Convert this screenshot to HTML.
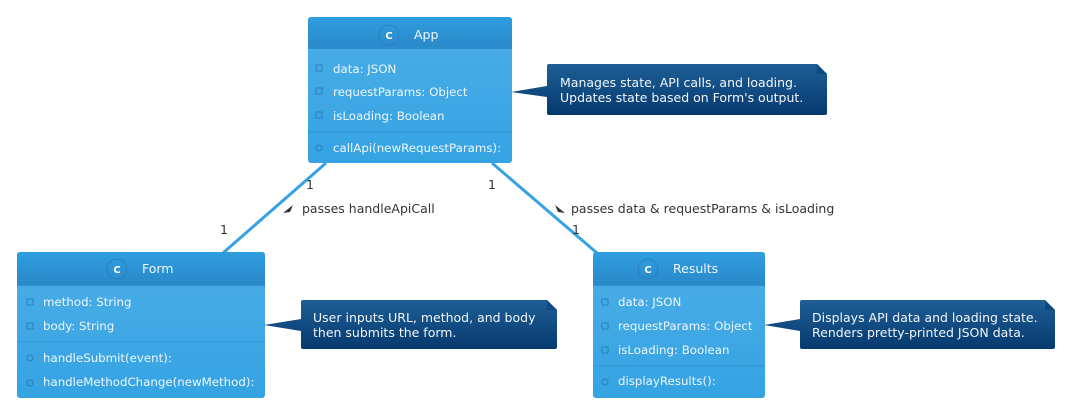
<!DOCTYPE html>
<html><head><meta charset="utf-8"><style>
html,body{margin:0;padding:0;background:#fff;}
svg{display:block;font-family:"DejaVu Sans","Liberation Sans",sans-serif;}
.m{font-size:11.8px;}
</style></head><body>
<svg width="1066" height="409" viewBox="0 0 1066 409" xmlns="http://www.w3.org/2000/svg">
<defs>
<linearGradient id="hd" x1="0" y1="0" x2="0" y2="1">
<stop offset="0" stop-color="#2f9fe0"/><stop offset="1" stop-color="#2a88c8"/></linearGradient>
<linearGradient id="bd" x1="0" y1="0" x2="0" y2="1">
<stop offset="0" stop-color="#4caee6"/><stop offset="1" stop-color="#35a3e3"/></linearGradient>
<linearGradient id="nt" x1="0" y1="0" x2="0" y2="1">
<stop offset="0" stop-color="#1f5e97"/><stop offset="1" stop-color="#053a6e"/></linearGradient>
</defs>

<line x1="326" y1="163" x2="223" y2="253" stroke="#35a3e3" stroke-width="3"/>
<line x1="492" y1="163" x2="597" y2="253" stroke="#35a3e3" stroke-width="3"/>
<g font-size="12.5" fill="#333">
<text x="306" y="189">1</text>
<text x="220" y="234">1</text>
<text x="488" y="189">1</text>
<text x="572" y="234">1</text>
<text x="302" y="213">passes handleApiCall</text>
<text x="571" y="213">passes data &amp; requestParams &amp; isLoading</text>
</g>
<polygon points="283,213 293,205 290,212" fill="#333"/>
<polygon points="555,205 565,213 558,212" fill="#333"/>

<!-- App -->
<rect x="308" y="17" width="204" height="146" rx="3" fill="url(#bd)"/>
<path d="M308,48 V20 a3,3 0 0 1 3,-3 H509 a3,3 0 0 1 3,3 V48 Z" fill="url(#hd)"/>
<rect x="308" y="47" width="204" height="2" fill="#2b8fcf"/>
<line x1="308" y1="132" x2="512" y2="132" stroke="#2f97d6" stroke-width="1"/>
<circle cx="389" cy="35" r="10" fill="none" stroke="#2a80bb" stroke-width="1"/>
<text x="389" y="39" font-size="10" font-weight="bold" fill="#fff" text-anchor="middle">C</text>
<text x="414" y="39" font-size="12.5" fill="#eef6fc">App</text>
<g class="m" fill="#eef6fc">
<text x="333" y="73">data: JSON</text>
<text x="333" y="96">requestParams: Object</text>
<text x="333" y="120">isLoading: Boolean</text>
<text x="333" y="152">callApi(newRequestParams):</text>
</g>
<g fill="none" stroke="#2a80bb" stroke-width="1">
<rect x="316" y="65" width="6" height="6"/><rect x="316" y="88" width="6" height="6"/><rect x="316" y="112" width="6" height="6"/>
<circle cx="319" cy="148" r="3"/>
</g>

<!-- Form -->
<rect x="17" y="252" width="248" height="146" rx="3" fill="url(#bd)"/>
<path d="M17,285 V255 a3,3 0 0 1 3,-3 H262 a3,3 0 0 1 3,3 V285 Z" fill="url(#hd)"/>
<rect x="17" y="284" width="248" height="2" fill="#2b8fcf"/>
<line x1="17" y1="342" x2="265" y2="342" stroke="#2f97d6" stroke-width="1"/>
<circle cx="117" cy="269" r="10" fill="none" stroke="#2a80bb" stroke-width="1"/>
<text x="117" y="273" font-size="10" font-weight="bold" fill="#fff" text-anchor="middle">C</text>
<text x="142" y="273" font-size="12.5" fill="#eef6fc">Form</text>
<g class="m" fill="#eef6fc">
<text x="43" y="306">method: String</text>
<text x="43" y="330">body: String</text>
<text x="43" y="362">handleSubmit(event):</text>
<text x="43" y="386">handleMethodChange(newMethod):</text>
</g>
<g fill="none" stroke="#2a80bb" stroke-width="1">
<rect x="27" y="299" width="6" height="6"/><rect x="27" y="323" width="6" height="6"/>
<circle cx="30" cy="358" r="3"/><circle cx="30" cy="383" r="3"/>
</g>

<!-- Results -->
<rect x="593" y="252" width="172" height="146" rx="3" fill="url(#bd)"/>
<path d="M593,285 V255 a3,3 0 0 1 3,-3 H762 a3,3 0 0 1 3,3 V285 Z" fill="url(#hd)"/>
<rect x="593" y="284" width="172" height="2" fill="#2b8fcf"/>
<line x1="593" y1="366" x2="765" y2="366" stroke="#2f97d6" stroke-width="1"/>
<circle cx="648" cy="269" r="10" fill="none" stroke="#2a80bb" stroke-width="1"/>
<text x="648" y="273" font-size="10" font-weight="bold" fill="#fff" text-anchor="middle">C</text>
<text x="673" y="273" font-size="12.5" fill="#eef6fc">Results</text>
<g class="m" fill="#eef6fc">
<text x="618" y="306">data: JSON</text>
<text x="618" y="330">requestParams: Object</text>
<text x="618" y="354">isLoading: Boolean</text>
<text x="618" y="385">displayResults():</text>
</g>
<g fill="none" stroke="#2a80bb" stroke-width="1">
<rect x="602" y="299" width="6" height="6"/><rect x="602" y="323" width="6" height="6"/><rect x="602" y="347" width="6" height="6"/>
<circle cx="605" cy="382" r="3"/>
</g>

<!-- notes -->
<g fill="url(#nt)">
<path d="M547,66 a2,2 0 0 1 2,-2 H817 L827,74 V113 a2,2 0 0 1 -2,2 H549 a2,2 0 0 1 -2,-2 V97 L511,92 L547,86 Z"/>
<path d="M301,302 a2,2 0 0 1 2,-2 H547 L557,310 V347 a2,2 0 0 1 -2,2 H303 a2,2 0 0 1 -2,-2 V331 L264,325 L301,319 Z"/>
<path d="M800,302 a2,2 0 0 1 2,-2 H1045 L1055,310 V347 a2,2 0 0 1 -2,2 H802 a2,2 0 0 1 -2,-2 V331 L764,325 L800,319 Z"/>
</g>
<g fill="#0d4a82"><path d="M817,64 V74 H827 Z"/><path d="M547,300 V310 H557 Z"/><path d="M1045,300 V310 H1055 Z"/></g>
<g font-size="12.5" fill="#f2f6fa">
<text x="560" y="87">Manages state, API calls, and loading.</text>
<text x="560" y="102">Updates state based on Form's output.</text>
<text x="313" y="322">User inputs URL, method, and body</text>
<text x="313" y="337">then submits the form.</text>
<text x="812" y="322">Displays API data and loading state.</text>
<text x="812" y="337">Renders pretty-printed JSON data.</text>
</g>
</svg>
</body></html>
